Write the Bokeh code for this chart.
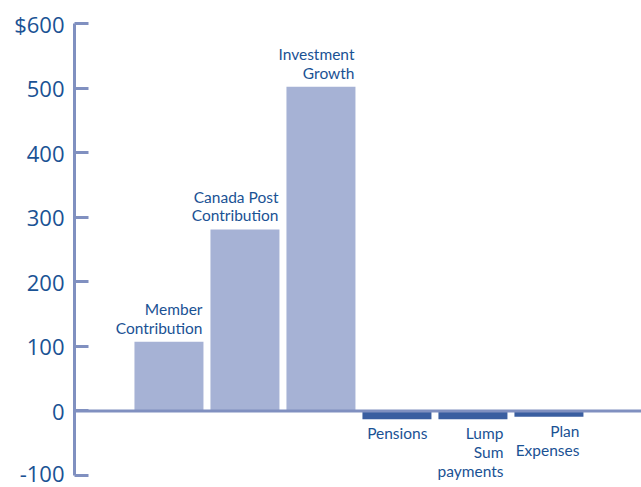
from bokeh.plotting import figure
from bokeh.models import ColumnDataSource, Span, FixedTicker
from bokeh.core.properties import value
from bokeh.embed import file_html
from bokeh.resources import INLINE

# Data
categories = ["Member\nContribution", "Canada Post\nContribution", "Investment\nGrowth",
              "Pensions", "Lump\nSum\npayments", "Plan\nExpenses"]
values = [107, 281, 502, -13, -13, -9]
y_ticks = [-100, 0, 100, 200, 300, 400, 500, 600]
y_tick_labels = ["-100", "0", "100", "200", "300", "400", "500", "$600"]

POS_COLOR = "#a6b2d5"
NEG_COLOR = "#3a5ea0"
TEXT_COLOR = "#1a5294"
AXIS_COLOR = "#8090c0"
BAR_W = 0.908
LABEL_FONT = "Lato"

xs = list(range(1, len(categories) + 1))
colors = [POS_COLOR if v >= 0 else NEG_COLOR for v in values]

p = figure(width=641, height=487, output_backend="svg", toolbar_location=None,
           x_range=(-0.243, 7.218), y_range=(-118.6, 600),
           min_border_left=74, min_border_right=0, min_border_top=23, min_border_bottom=0)
p.outline_line_color = None
p.grid.visible = False
p.xaxis.visible = False

src = ColumnDataSource(dict(x=xs, top=values, color=colors))
p.vbar(x="x", top="top", bottom=0, width=BAR_W, fill_color="color", line_color=None, source=src)

p.add_layout(Span(location=0, dimension="width", line_color=AXIS_COLOR, line_width=3))

pos_x = [x + BAR_W / 2 for x, v in zip(xs, values) if v >= 0]
pos_y = [v for v in values if v >= 0]
pos_t = [c for c, v in zip(categories, values) if v >= 0]
neg_x = [x + BAR_W / 2 for x, v in zip(xs, values) if v < 0]
neg_y = [v for v in values if v < 0]
neg_t = [c for c, v in zip(categories, values) if v < 0]

p.text(x=pos_x, y=pos_y, text=pos_t, text_align="right", text_baseline="bottom",
       x_offset=-1, y_offset=-5, text_font=value(LABEL_FONT),
       text_font_size="15.5px", text_color=TEXT_COLOR, text_line_height=1.05)
p.text(x=neg_x, y=neg_y, text=neg_t, text_align="right", text_baseline="top",
       x_offset=-4, y_offset=5, text_font=value(LABEL_FONT),
       text_font_size="15.5px", text_color=TEXT_COLOR, text_line_height=1.05)

ax = p.yaxis[0]
ax.ticker = FixedTicker(ticks=y_ticks)
ax.bounds = (-100, 600)
ax.major_label_overrides = {t: l for t, l in zip(y_ticks, y_tick_labels)}
ax.minor_tick_line_color = None
ax.major_tick_in = 14
ax.major_tick_out = 0
ax.major_tick_line_width = 3
ax.major_tick_line_color = AXIS_COLOR
ax.axis_line_width = 3
ax.axis_line_color = AXIS_COLOR
ax.major_label_text_font = "Open Sans"
ax.major_label_text_font_size = "22px"
ax.major_label_text_color = TEXT_COLOR
ax.major_label_standoff = 10

open("out.html", "w").write(file_html(p, INLINE))
